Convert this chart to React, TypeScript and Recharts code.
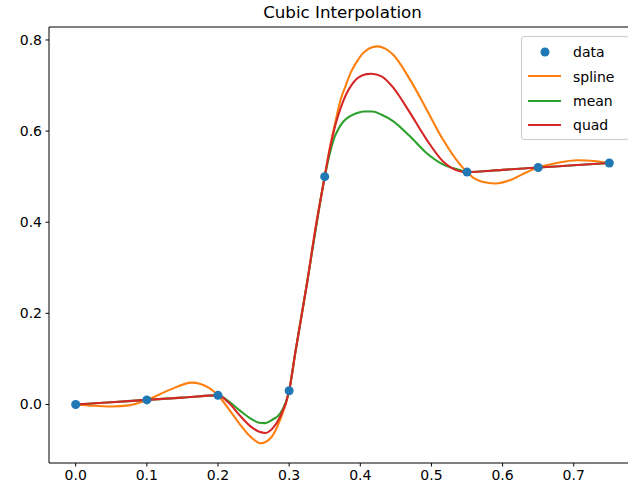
import { LineChart, Line, XAxis, YAxis, ReferenceLine, Legend } from 'recharts'

// points, [x, y]
const samples: [number, number][] = [
  [0, 0], [0.1, 0.01], [0.2, 0.02], [0.3, 0.03], [0.35, 0.5], [0.55, 0.51], [0.65, 0.52], [0.75, 0.53],
]

const spline: [number, number][] = [
  [0, 0], [0.025, -0.003], [0.05, -0.0045], [0.075, -0.002], [0.1, 0.01], [0.132, 0.032],
  [0.163, 0.048], [0.188, 0.036], [0.2, 0.02], [0.2165, -0.013], [0.2305, -0.043], [0.245, -0.07],
  [0.26, -0.085], [0.275, -0.072], [0.287, -0.035], [0.3, 0.03], [0.309, 0.117], [0.325, 0.265],
  [0.338, 0.395], [0.35, 0.5], [0.357, 0.562], [0.365, 0.62], [0.372, 0.667], [0.38, 0.702],
  [0.387, 0.73], [0.395, 0.752], [0.402, 0.768], [0.41, 0.779], [0.417, 0.784], [0.424, 0.786],
  [0.435, 0.781], [0.446, 0.768], [0.4695, 0.714], [0.493, 0.648], [0.516, 0.582],
  [0.54, 0.527], [0.55, 0.51], [0.5585, 0.498], [0.577, 0.487], [0.59, 0.485], [0.61, 0.492],
  [0.63, 0.507], [0.65, 0.52], [0.676, 0.53], [0.705, 0.536], [0.732, 0.534], [0.75, 0.53],
]

const mean: [number, number][] = [
  [0, 0], [0.05, 0.005], [0.1, 0.01], [0.15, 0.015], [0.2, 0.02], [0.2165, 0.005], [0.2305, -0.013],
  [0.245, -0.03], [0.2575, -0.04], [0.266, -0.041], [0.277, -0.033], [0.287, -0.0205], [0.3, 0.03],
  [0.309, 0.117], [0.325, 0.265], [0.338, 0.39], [0.35, 0.5], [0.357, 0.55], [0.3634, 0.585],
  [0.37, 0.607], [0.377, 0.622], [0.384, 0.631], [0.391, 0.637], [0.398, 0.641], [0.405, 0.643],
  [0.417, 0.643], [0.43, 0.636], [0.446, 0.622], [0.4695, 0.589], [0.493, 0.552],
  [0.516, 0.527], [0.54, 0.5145], [0.55, 0.51], [0.6, 0.515], [0.65, 0.52], [0.7, 0.525], [0.75, 0.53],
]

const quad: [number, number][] = [
  [0, 0], [0.05, 0.005], [0.1, 0.01], [0.15, 0.015], [0.2, 0.02], [0.2165, 0.0015], [0.2305, -0.024],
  [0.245, -0.047], [0.258, -0.06], [0.267, -0.0625], [0.277, -0.052], [0.287, -0.028], [0.3, 0.03],
  [0.309, 0.117], [0.325, 0.265], [0.338, 0.395], [0.35, 0.5], [0.3566, 0.556], [0.3631, 0.602],
  [0.3697, 0.638], [0.3763, 0.667], [0.3829, 0.689], [0.3894, 0.705], [0.396, 0.716], [0.4025, 0.722],
  [0.409, 0.725], [0.4156, 0.726], [0.43, 0.72], [0.446, 0.696], [0.4695, 0.641],
  [0.493, 0.582], [0.516, 0.534], [0.54, 0.512], [0.55, 0.51], [0.6, 0.515], [0.65, 0.52],
  [0.7, 0.525], [0.75, 0.53],
]

const xTicks = [0, 0.1, 0.2, 0.3, 0.4, 0.5, 0.6, 0.7]
const yTicks = [0, 0.2, 0.4, 0.6, 0.8]

const X_MIN = -0.0375
const X_MAX = 0.7875
const Y_MIN = -0.1285
const Y_MAX = 0.8285

const COLORS = {
  data: '#1f77b4',
  spline: '#ff7f0e',
  mean: '#2ca02c',
  quad: '#d62728',
}

const FONT = '"DejaVu Sans", sans-serif'

const toRows = (pts: [number, number][]) => pts.map(([x, y]) => ({ x, y }))

const legendItems = [
  { name: 'data', color: COLORS.data, marker: true },
  { name: 'spline', color: COLORS.spline, marker: false },
  { name: 'mean', color: COLORS.mean, marker: false },
  { name: 'quad', color: COLORS.quad, marker: false },
]

function renderLegend() {
  return (
    <div
      style={{
        boxSizing: 'border-box',
        width: 108,
        height: 104,
        paddingTop: 3,
        background: 'rgba(255,255,255,0.8)',
        border: '1px solid #cccccc',
        borderRadius: 3,
        fontFamily: FONT,
        fontSize: 14,
        color: '#000',
      }}
    >
      {legendItems.map(item => (
        <div key={item.name} style={{ height: 24.4, display: 'flex', alignItems: 'center', position: 'relative' }}>
          <svg width={50} height={24} style={{ position: 'absolute', left: 0, top: 0 }}>
            {item.marker ? (
              <circle cx={23} cy={12} r={4.5} fill={item.color} />
            ) : (
              <line x1={6} x2={39} y1={12} y2={12} stroke={item.color} strokeWidth={2.1} />
            )}
          </svg>
          <span style={{ position: 'absolute', left: 51, lineHeight: '24px' }}>{item.name}</span>
        </div>
      ))}
    </div>
  )
}

const tickStyle = { fill: '#000', fontSize: 14, fontFamily: FONT }

function App() {
  return (
    <div style={{ position: 'fixed', left: 0, top: 0, width: 628, height: 498, overflow: 'hidden', background: '#fff' }}>
      <div
        style={{
          position: 'absolute',
          left: 0,
          top: 4,
          width: 685,
          textAlign: 'center',
          fontFamily: FONT,
          fontSize: 16.7,
          lineHeight: 1,
          color: '#000',
        }}
      >
        Cubic Interpolation
      </div>
      <LineChart width={650} height={498} margin={{ top: 27, right: 14, left: 0, bottom: 0 }}>
        <XAxis
          type="number"
          dataKey="x"
          domain={[X_MIN, X_MAX]}
          allowDataOverflow
          ticks={xTicks}
          tickFormatter={(v: number) => v.toFixed(1)}
          height={35}
          tickSize={3.5}
          tickMargin={3.5}
          stroke="#000"
          tick={tickStyle}
          tickLine={{ stroke: '#000' }}
        />
        <YAxis
          type="number"
          dataKey="y"
          domain={[Y_MIN, Y_MAX]}
          allowDataOverflow
          ticks={yTicks}
          tickFormatter={(v: number) => v.toFixed(1)}
          width={49}
          tickSize={3.5}
          tickMargin={3.5}
          stroke="#000"
          tick={tickStyle}
          tickLine={{ stroke: '#000' }}
        />
        <ReferenceLine y={Y_MAX} stroke="#000" strokeWidth={1} />
        <ReferenceLine x={X_MAX} stroke="#000" strokeWidth={1} />
        <Line
          data={toRows(samples)}
          dataKey="y"
          stroke="none"
          dot={{ r: 4.5, fill: COLORS.data, stroke: 'none' }}
          activeDot={false}
          isAnimationActive={false}
          legendType="none"
        />
        <Line data={toRows(spline)} dataKey="y" type="monotone" stroke={COLORS.spline} strokeWidth={2.1} dot={false} isAnimationActive={false} />
        <Line data={toRows(mean)} dataKey="y" type="monotone" stroke={COLORS.mean} strokeWidth={2.1} dot={false} isAnimationActive={false} />
        <Line data={toRows(quad)} dataKey="y" type="monotone" stroke={COLORS.quad} strokeWidth={2.1} dot={false} isAnimationActive={false} />
        <Legend
          layout="horizontal"
          verticalAlign="middle"
          align="center"
          content={renderLegend}
          wrapperStyle={{ left: 521, top: 36, width: 108, height: 104 }}
        />
      </LineChart>
    </div>
  )
}

export default App
